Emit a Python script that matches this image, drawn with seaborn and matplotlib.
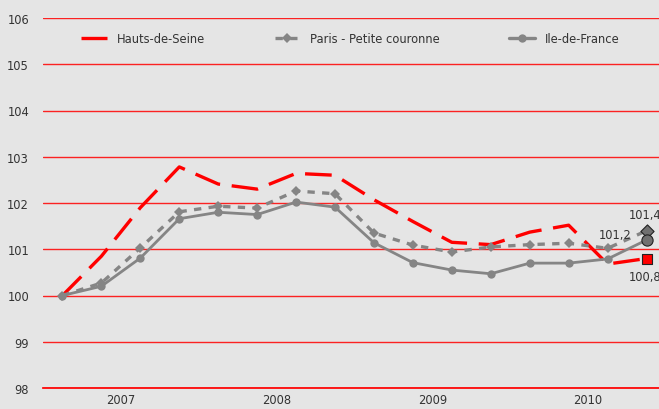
import numpy as np
import pandas as pd
import matplotlib
matplotlib.use("Agg")
import matplotlib.pyplot as plt
import seaborn as sns

# quarterly index values, 2007 Q1 .. 2010 Q4
quarters = np.arange(16) + 0.5
years = ["2007", "2008", "2009", "2010"]
hauts_de_seine = [100.0, 100.85, 101.9, 102.78, 102.41, 102.3, 102.64, 102.6,
                  102.07, 101.6, 101.15, 101.1, 101.37, 101.52, 100.68, 100.8]
paris_pc = [100.0, 100.27, 101.03, 101.81, 101.93, 101.89, 102.26, 102.2,
            101.35, 101.09, 100.94, 101.05, 101.1, 101.13, 101.02, 101.4]
ile_de_france = [100.0, 100.2, 100.81, 101.66, 101.8, 101.75, 102.02, 101.91,
                 101.14, 100.71, 100.55, 100.47, 100.7, 100.7, 100.79, 101.2]

sns.set_theme(style="white")
plt.rcParams["font.family"] = ["DejaVu Sans"]
bg = "#e5e5e5"
red = "#ff0000"
grey = "#858585"

fig = plt.figure(figsize=(6.59, 4.10), dpi=100, facecolor=bg)
ax = fig.add_axes([43 / 659, 21 / 410, 623 / 659, 370 / 410])
ax.set_facecolor(bg)

df = pd.DataFrame({"q": quarters, "hds": hauts_de_seine, "ppc": paris_pc, "idf": ile_de_france})

for v in range(98, 107):
    ax.axhline(v, color=red, lw=1, alpha=0.85, zorder=1)

sns.lineplot(data=df, x="q", y="hds", ax=ax, color=red, lw=2.4,
             label="Hauts-de-Seine", zorder=3)
ax.lines[-1].set_dashes([8, 3.5])
sns.lineplot(data=df, x="q", y="ppc", ax=ax, color=grey, lw=2.4, marker="D",
             markersize=5, markeredgewidth=0, label="Paris - Petite couronne", zorder=3)
ax.lines[-1].set_dashes([2.2, 2.2])
sns.lineplot(data=df, x="q", y="idf", ax=ax, color=grey, lw=2, marker="o",
             markersize=6, markeredgewidth=0, label="Ile-de-France", zorder=4)

# end markers
ax.scatter([quarters[-1]], [hauts_de_seine[-1]], marker="s", s=60, color=red,
           edgecolor="#222", linewidth=0.8, zorder=6)
ax.scatter([quarters[-1]], [paris_pc[-1]], marker="D", s=45, color="#707070",
           edgecolor="#222", linewidth=0.8, zorder=6)
ax.scatter([quarters[-1]], [ile_de_france[-1]], marker="o", s=65, color="#707070",
           edgecolor="#222", linewidth=0.8, zorder=6)

lab_kw = dict(fontsize=8.3, color="#333333", va="center", clip_on=False)
ax.text(15.04, 101.76, "101,4", ha="left", **lab_kw)
ax.text(14.7, 101.31, "101,2", ha="center", **lab_kw)
ax.text(15.04, 100.4, "100,8", ha="left", **lab_kw)

ax.set_xlim(0, 16)
ax.set_ylim(98, 106)
ax.set_yticks(range(98, 107))
ax.set_xticks([0, 4, 8, 12, 16])
ax.set_xticklabels([])
ax.set_xticks([2, 6, 10, 14], minor=True)
ax.set_xticklabels(years, minor=True)
ax.tick_params(axis="x", which="major", direction="out", length=4, color=red, width=1)
ax.tick_params(axis="x", which="minor", length=0, pad=3.5, labelsize=8.3, labelcolor="#333333")
ax.tick_params(axis="y", length=0, pad=10, labelsize=8.3, labelcolor="#333333")
ax.set_xlabel("")
ax.set_ylabel("")
for s in ["top", "right", "left"]:
    ax.spines[s].set_visible(False)
ax.spines["bottom"].set_color(red)

leg = ax.legend(loc="upper left", bbox_to_anchor=(0.045, 0.99), ncol=3, frameon=False,
                fontsize=8.3, handlelength=2.2, handletextpad=0.9, columnspacing=6.0,
                labelcolor="#333333")
for h in leg.get_lines():
    h.set_linewidth(2.4)

fig.savefig("out.png", dpi=100, facecolor=bg)
